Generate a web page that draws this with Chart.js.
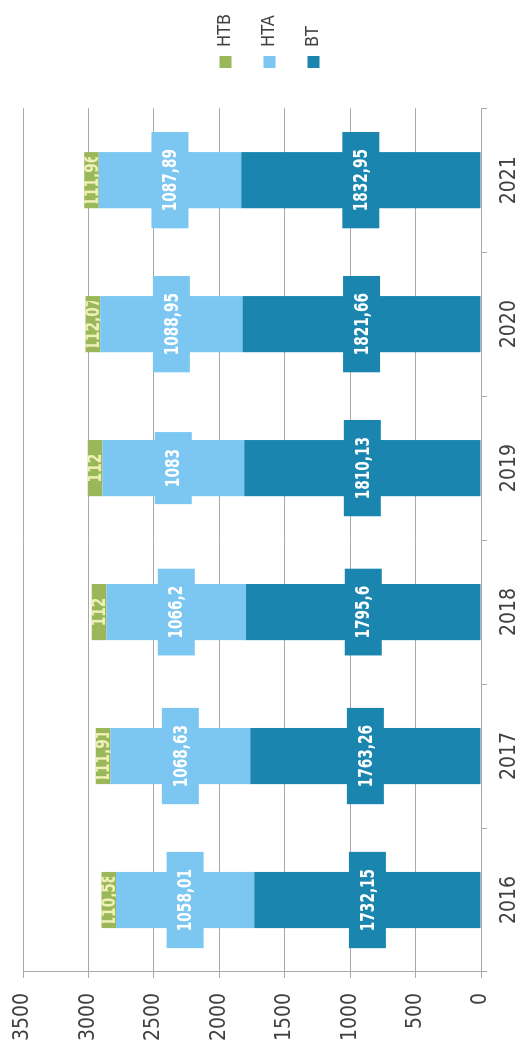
<!DOCTYPE html>
<html>
<head>
<meta charset="utf-8">
<script src="https://cdn.jsdelivr.net/npm/chart.js@4.4.1/dist/chart.umd.min.js"></script>
<style>
    html, body { margin: 0; padding: 0; overflow: hidden; background: #fff; width: 528px; height: 1050px; }
    #wrap { position: absolute; left: 0; top: 0; width: 1050px; height: 528px; transform-origin: 0 0; transform: translate(0, 1050px) rotate(-90deg); }
</style>
</head>
<body>
<div id="wrap"><canvas id="chart" width="1050" height="528"></canvas></div>
<script>
// data
const years = ["2016", "2017", "2018", "2019", "2020", "2021"];
const btValues = [1732.15, 1763.26, 1795.6, 1810.13, 1821.66, 1832.95];
const htaValues = [1058.01, 1068.63, 1066.2, 1083, 1088.95, 1087.89];
const htbValues = [110.58, 111.91, 112, 112, 112.07, 111.96];
const valueMax = 3500;
const valueStep = 500;

const fontFamily = "'Liberation Sans Narrow', 'DejaVu Sans Condensed', 'Liberation Sans', sans-serif";
Chart.defaults.font.family = fontFamily;
Chart.defaults.color = "#404040";

const gridColor = "#a8a8a8";
const squeeze = 0.76; // label glyphs are narrow in the scan

// labels in boxes like the excel chart
const barLabels = {
    id: "barLabels",
    afterDatasetsDraw(chart) {
        const ctx = chart.ctx;
        ctx.save();
        ctx.font = "bold 20px " + fontFamily;
        ctx.textAlign = "center";
        ctx.textBaseline = "middle";
        chart.data.datasets.forEach((ds, i) => {
            const meta = chart.getDatasetMeta(i);
            meta.data.forEach((bar, j) => {
                const text = String(ds.data[j]).replace(".", ",");
                const cx = bar.x;
                const cy = (bar.y + bar.base) / 2;
                ctx.save();
                if (ds.label === "HTB") {
                    ctx.beginPath();
                    ctx.rect(cx - 23, bar.y, 46, bar.base - bar.y);
                    ctx.clip();
                    ctx.fillStyle = "#eef0b8";
                } else {
                    const w = ctx.measureText(text).width * squeeze + 34;
                    const h = 37;
                    ctx.fillStyle = ds.backgroundColor;
                    ctx.fillRect(cx - w / 2, cy - h / 2, w, h);
                    ctx.fillStyle = "#ffffff";
                }
                ctx.translate(cx, cy + 1);
                ctx.scale(squeeze, 1);
                ctx.fillText(text, 0, 0);
                ctx.restore();
            });
        });
        ctx.restore();
    }
};

// put the legend where the scan has it
const legendShift = {
    id: "legendShift",
    afterLayout(chart) {
        const lg = chart.legend;
        const w = lg.right - lg.left;
        lg.left = 956; lg.right = 956 + w;
        lg.top -= 6; lg.bottom -= 6;
    }
};

new Chart(document.getElementById("chart"), {
    type: "bar",
    data: {
        labels: years,
        datasets: [
            { label: "BT", data: btValues, backgroundColor: "#1a86b0" },
            { label: "HTA", data: htaValues, backgroundColor: "#7cc6f2" },
            { label: "HTB", data: htbValues, backgroundColor: "#9ab85a" }
        ]
    },
    options: {
        responsive: false,
        animation: false,
        layout: { padding: { top: 23, right: 18, bottom: 0, left: 0 } },
        datasets: { bar: { barPercentage: 0.39, categoryPercentage: 1, borderWidth: 0 } },
        plugins: {
            legend: {
                position: "right",
                reverse: true,
                labels: { boxWidth: 12, boxHeight: 12, padding: 26, color: "#404040", font: { size: 18 } }
            },
            tooltip: { enabled: false }
        },
        scales: {
            x: {
                stacked: true,
                afterFit: (scale) => { scale.height = 47; },
                grid: { drawOnChartArea: false, drawTicks: true, tickLength: 6, color: gridColor },
                border: { color: gridColor },
                ticks: { color: "#404040", font: { size: 21 }, padding: 10 }
            },
            y: {
                stacked: true,
                min: 0,
                max: valueMax,
                afterFit: (scale) => {
                    scale.width = 78;
                    scale.paddingTop = 0;
                    scale.paddingBottom = 0;
                },
                grid: { color: gridColor, tickLength: 6 },
                border: { color: gridColor },
                ticks: { stepSize: valueStep, color: "#404040", font: { size: 21 }, padding: 15, callback: (v) => String(v) }
            }
        }
    },
    plugins: [barLabels, legendShift]
});
</script>
</body>
</html>
